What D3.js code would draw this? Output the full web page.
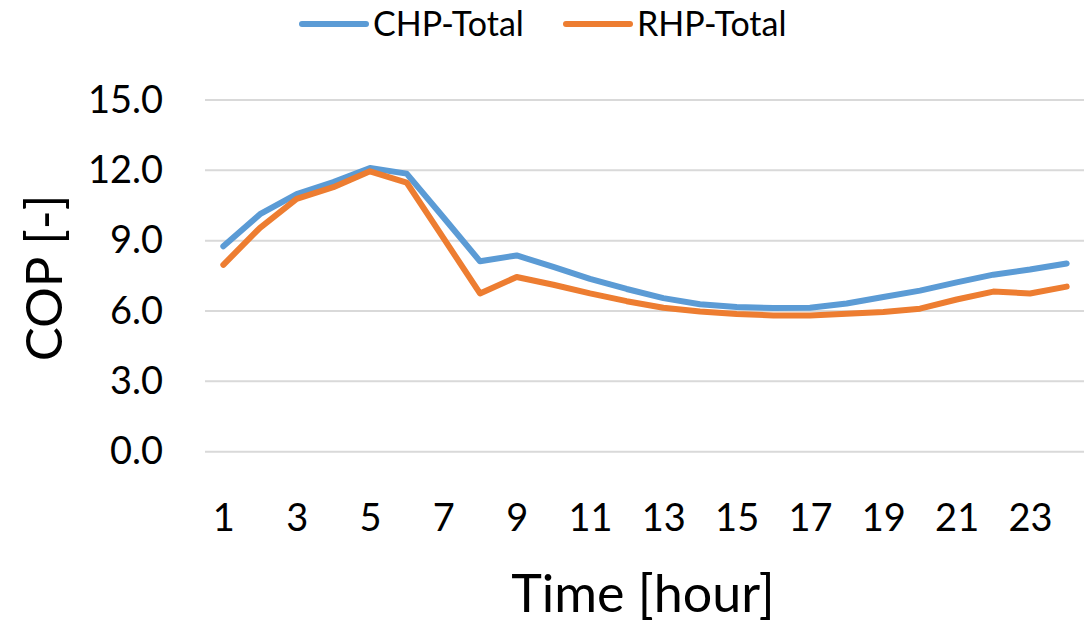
<!DOCTYPE html>
<html>
<head>
<meta charset="utf-8">
<script src="https://cdn.jsdelivr.net/npm/d3@7"></script>
<style>
  body { margin: 0; background: #fff; }
  text { font-family: Lato, "Open Sans", sans-serif; fill: #000; }
</style>
</head>
<body>
<svg id="chart" width="1084" height="623"></svg>
<script>
const hours = d3.range(1, 25);
const chpTotal = [8.76, 10.13, 10.99, 11.5, 12.1, 11.86, 10.0, 8.12, 8.37,
  7.88, 7.37, 6.94, 6.55, 6.29, 6.17, 6.13, 6.14, 6.32, 6.6, 6.87, 7.22, 7.55, 7.77, 8.03];
const rhpTotal = [7.97, 9.55, 10.78, 11.28, 11.96, 11.48, 9.12, 6.75, 7.45,
  7.12, 6.75, 6.42, 6.14, 5.98, 5.87, 5.81, 5.81, 5.88, 5.96, 6.1, 6.49, 6.83, 6.75, 7.04];
const yTicks = [0, 3, 6, 9, 12, 15];
const seriesNames = ["CHP-Total", "RHP-Total"];
const colors = ["#5B9BD5", "#ED7D31"];

const svg = d3.select("#chart");
const plotLeft = 205, plotRight = 1085, plotTop = 100, plotBottom = 451.7;

const x = d3.scalePoint().domain(hours).range([plotLeft, plotRight]).padding(0.5);
const y = d3.scaleLinear().domain([0, 15]).range([plotBottom, plotTop]);

// gridlines
svg.append("g")
  .selectAll("line")
  .data(yTicks)
  .enter()
  .append("line")
  .attr("x1", plotLeft).attr("x2", plotRight)
  .attr("y1", d => y(d)).attr("y2", d => y(d))
  .attr("stroke", "#d9d9d9")
  .attr("stroke-width", 2);

// y axis labels
const yAxis = svg.append("g")
  .attr("transform", `translate(${plotLeft - 42},0)`)
  .call(d3.axisLeft(y).tickValues(yTicks).tickFormat(d3.format(".1f")).tickSize(0).tickPadding(0));
yAxis.select(".domain").remove();
yAxis.selectAll("text").style("font-size", "38px").style("font-family", "Lato, sans-serif").attr("fill", "#000");

// x axis labels
const xAxis = svg.append("g")
  .attr("transform", `translate(0,${plotBottom + 52})`)
  .call(d3.axisBottom(x).tickValues(hours.filter(h => h % 2 === 1)).tickSize(0).tickPadding(0));
xAxis.select(".domain").remove();
xAxis.selectAll("text").style("font-size", "38px").style("font-family", "Lato, sans-serif").attr("fill", "#000");

// lines
const line = d3.line().x((d, i) => x(hours[i])).y(d => y(d));
[chpTotal, rhpTotal].forEach((s, k) => {
  svg.append("path")
    .datum(s)
    .attr("d", line)
    .attr("fill", "none")
    .attr("stroke", colors[k])
    .attr("stroke-width", 6)
    .attr("stroke-linejoin", "round")
    .attr("stroke-linecap", "round");
});

// axis titles
svg.append("text")
  .attr("x", 643).attr("y", 612)
  .attr("text-anchor", "middle")
  .style("font-size", "52px")
  .text("Time [hour]");

svg.append("text")
  .attr("transform", "translate(62,278) rotate(-90)")
  .attr("text-anchor", "middle")
  .style("font-size", "51px")
  .text("COP [-]");

// legend
const legendX = [302, 566];
const leg = svg.append("g");
seriesNames.forEach((name, k) => {
  leg.append("line")
    .attr("x1", legendX[k]).attr("x2", legendX[k] + 64)
    .attr("y1", 24).attr("y2", 24)
    .attr("stroke", colors[k])
    .attr("stroke-width", 6)
    .attr("stroke-linecap", "round");
  leg.append("text")
    .attr("x", legendX[k] + 71).attr("y", 36)
    .style("font-size", "34px")
    .text(name);
});
</script>
</body>
</html>
